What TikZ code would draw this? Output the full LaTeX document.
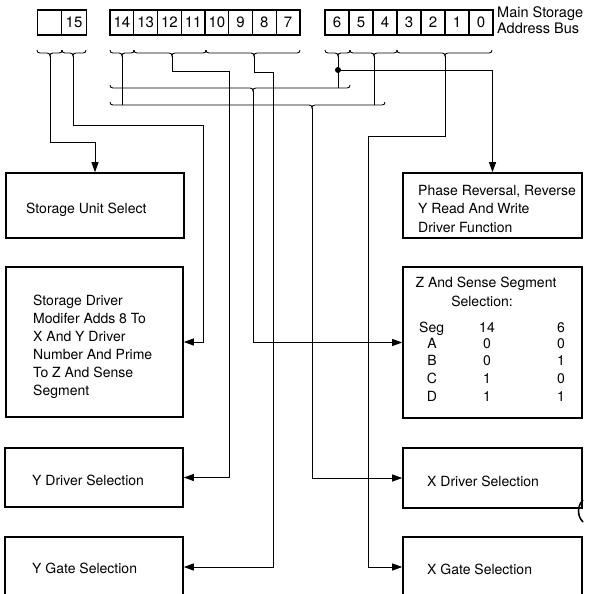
\documentclass[tikz,border=0pt]{standalone}
\usepackage{fontspec}
\setmainfont{TeX Gyre Heros}
\usetikzlibrary{arrows.meta}
\newcommand\mybrace[4]{%
 \draw[ln] (#1,#4-3) .. controls (#1,#4-1) and (#1+1,#4) .. (#1+3,#4) -- (#2-3,#4) .. controls (#2-1,#4) and (#2,#4+1) .. (#2,#4+3) .. controls (#2,#4+1) and (#2+1,#4) .. (#2+3,#4) -- (#3-3,#4) .. controls (#3-1,#4) and (#3,#4-1) .. (#3,#4-3);}
\begin{document}
\begin{tikzpicture}[x=1pt,y=-1pt,
 ln/.style={line width=0.9pt},
 arr/.style={ln,-{Triangle[length=10pt,width=7pt]}},
 box/.style={draw,line width=1.6pt,inner sep=0pt},
 txt/.style={font=\fontsize{14}{18}\selectfont,inner sep=0pt,anchor=base west},
 ctxt/.style={font=\fontsize{14}{18}\selectfont,inner sep=0pt,anchor=base},
 reg/.style={draw,line width=1.4pt,minimum height=25pt,inner sep=0pt,font=\fontsize{15}{15}\selectfont}]
\useasboundingbox (0,0) rectangle (591,594);
\clip (0,0) rectangle (591,594);
% registers
\node[reg,minimum width=24.5pt] (cx) at (49.5,22.5) {};
\node[reg,minimum width=24.5pt] (c15) at (74,22.5) {15};
\foreach \n [count=\i from 0] in {14,13,12,11,10,9,8,7}
  \node[reg,minimum width=23.75pt] (c\n) at ({110+23.75*(\i+0.5)},22.5) {\n};
\foreach \n [count=\i from 0] in {6,5,4,3,2,1,0}
  \node[reg,minimum width=24pt] (c\n) at ({325+24*(\i+0.5)},22.5) {\n};
\node[txt,font=\fontsize{14.5}{16}\selectfont] (lab1) at (497,17.5) {Main Storage};
\node[txt,font=\fontsize{14.5}{16}\selectfont] (lab2) at (497,33.3) {Address Bus};
% braces
\mybrace{37}{50}{62}{53}
\mybrace{62}{73}{86}{53}
\mybrace{110}{122}{134}{53}
\mybrace{134}{172}{206}{53}
\mybrace{206}{254}{300}{53}
\mybrace{325}{338}{350}{53}
\mybrace{350}{374}{397}{53}
\mybrace{397}{445}{492}{53}
\mybrace{110}{253}{350}{88}
\mybrace{110}{312}{385}{105}
% boxes
\node[box,minimum width=178pt,minimum height=65pt] (sus) at (95,205.5) {};
\node[box,minimum width=177pt,minimum height=150pt] (sdm) at (94.5,342) {};
\node[box,minimum width=178pt,minimum height=59pt] (yds) at (94,477.5) {};
\node[box,minimum width=178pt,minimum height=60pt] (ygs) at (94,567) {};
\node[box,minimum width=179pt,minimum height=65pt] (phase) at (492.5,205.5) {};
\node[box,minimum width=179pt,minimum height=151pt] (zss) at (492.5,342.5) {};
\node[box,minimum width=179pt,minimum height=60pt] (xds) at (492.5,478) {};
\node[box,minimum width=179pt,minimum height=60pt] (xgs) at (492.5,567) {};
% texts
\node[txt] (sust) at (26,213) {Storage Unit Select};
\node[txt] (sdm1) at (33,305) {Storage Driver};
\node[txt] (sdm2) at (33,323) {Modifer Adds 8 To};
\node[txt] (sdm3) at (33,341) {X And Y Driver};
\node[txt] (sdm4) at (33,359) {Number And Prime};
\node[txt] (sdm5) at (33,377) {To Z And Sense};
\node[txt] (sdm6) at (33,395) {Segment};
\node[txt] (ydst) at (32,485) {Y Driver Selection};
\node[txt] (ygst) at (32,573) {Y Gate Selection};
\node[txt] (ph1) at (418,195) {Phase Reversal, Reverse};
\node[txt] (ph2) at (418,213.5) {Y Read And Write};
\node[txt] (ph3) at (418,232) {Driver Function};
\node[ctxt] (z1) at (486,287) {Z And Sense Segment};
\node[ctxt] (z2) at (482,306) {Selection:};
\node[txt] (zh) at (419,332) {Seg};
\node[ctxt] (zh14) at (487,332) {14};
\node[ctxt] (zh6) at (561,332) {6};
\foreach \L/\a/\b/\yy in {A/0/0/348,B/0/1/365,C/1/0/383,D/1/1/401}{
  \node[ctxt] (r\L) at (432,\yy) {\L};
  \node[ctxt] (r\L a) at (487,\yy) {\a};
  \node[ctxt] (r\L b) at (561,\yy) {\b};
}
\node[txt] (xdst) at (427,486) {X Driver Selection};
\node[txt] (xgst) at (427,574) {X Gate Selection};
% junction coordinates
\coordinate (t1a) at (50,56);
\coordinate (t1b) at (73,56);
\coordinate (t2a) at (122,56);
\coordinate (t2b) at (172,56);
\coordinate (t2c) at (254,56);
\coordinate (t3a) at (338,56);
\coordinate (t3b) at (374,56);
\coordinate (t3c) at (445,56);
\coordinate (t4) at (253,91);
\coordinate (t5) at (312,108);
\coordinate (j2) at (338,88);
\coordinate (j3a) at (122,105);
\coordinate (j3b) at (374,105);
\coordinate (dot) at (338,70);
% connectors
\draw[arr] (t1a) |- (95,142) -- (sus.north);
\draw[arr] (t1b) |- (203,125) |- (sdm.east);
\draw[ln] (t2a) -- (j3a);
\draw[arr] (t2b) |- (229,71) |- (yds.east);
\draw[arr] (t2c) |- (273,72) |- (ygs.east);
\draw[ln] (t3a) -- (j2);
\fill (dot) circle (3);
\draw[arr] (dot) -| (phase.north);
\draw[ln] (t3b) -- (j3b);
\draw[arr] (t3c) |- (368,136) |- (xgs.west);
\draw[arr] (t4) |- (zss.west);
\draw[arr] (t5) |- (xds.west);
% mark at right of X driver box
\draw[line width=1.6pt] (583,500) .. controls (577,506) and (577,516) .. (583,522);
\end{tikzpicture}
\end{document}
